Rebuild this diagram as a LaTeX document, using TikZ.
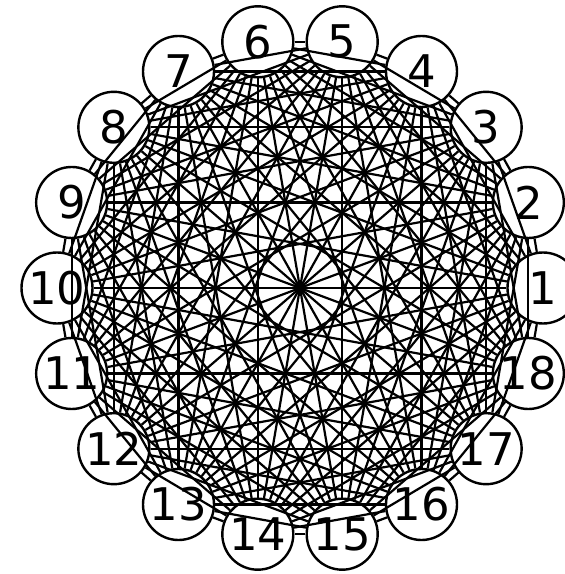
\documentclass[tikz,border=0pt]{standalone}
\usepackage{fontspec}
\setmainfont{DejaVu Sans}
\begin{document}
\begin{tikzpicture}[x=1pt, y=1pt,
  vertex/.style={circle, draw, fill=white, line width=2.4pt, minimum size=71pt, inner sep=0pt, font=\fontsize{45}{45}\selectfont},
  link/.style={line width=2.2pt}]
\useasboundingbox (0,0) rectangle (565,574);

% --- the 18 vertices on the ring ---
\foreach \k in {1,...,18}
  \node[vertex] (n\k) at ({300+243*cos((\k-1)*20)}, {286+250*sin((\k-1)*20)}) {\k};

% --- every pair joined ---
\foreach \i in {1,...,17} {
  \pgfmathtruncatemacro{\nxt}{\i+1}
  \foreach \j in {\nxt,...,18}
    \draw[link] (n\i) -- (n\j);
}
\end{tikzpicture}
\end{document}
